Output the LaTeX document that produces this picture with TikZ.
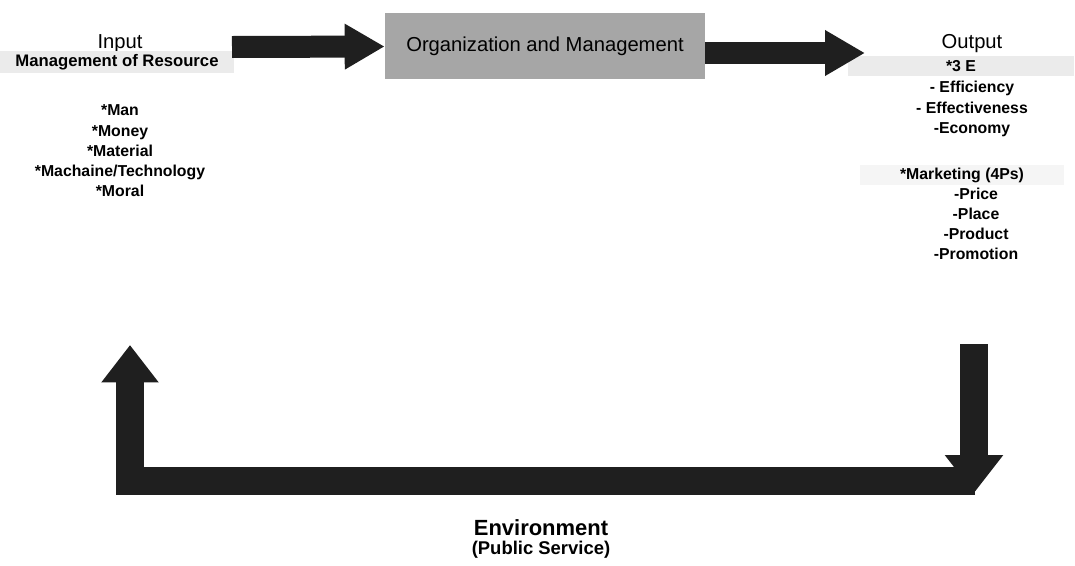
\documentclass[tikz,border=0pt]{standalone}
\usepackage{fontspec}
\setmainfont{Liberation Sans}
\usetikzlibrary{arrows.meta}
\begin{document}
\begin{tikzpicture}[x=0.02cm,y=-0.02cm]
\tikzstyle{ttl}= [font=\fontsize{11.5}{13}\selectfont]
\tikzstyle{lst}= [align=center,inner sep=1pt,font=\fontsize{9}{11.5}\selectfont\bfseries]
\tikzstyle{band}= [fill=black!8,minimum height=0.44cm,inner sep=1pt]
\tikzstyle{orgbox}= [rectangle,fill=black!35,minimum width=6.4cm,minimum height=1.34cm,font=\fontsize{11.5}{13}\selectfont]
\tikzstyle{flow}= [draw=black!88,line width=0.44cm,-{Triangle[length=0.8cm,width=0.86cm]}]
\tikzstyle{loop}= [draw=black!88,line width=0.55cm,-{Triangle[length=0.75cm,width=1.1cm]}]
\useasboundingbox (0,0) rectangle (1075,565);

\path
	(120,44)   node[ttl] (in) {Input}
	(117,62)   node[band,minimum width=4.7cm,font=\fontsize{9.5}{11}\selectfont\bfseries] (res) {Management of Resource}
	(120,151)  node[lst] (inlist) {*Man\\*Money\\*Material\\*Machaine/Technology\\*Moral}
	(545,46)   node[orgbox] (org) {Organization and Management}
	(972,44)   node[ttl] (out) {Output}
	(961,66)   node[band,lst,minimum width=4.54cm,minimum height=0.4cm] (e3) {*3 E}
	(972,109)  node[lst] (elist) {- Efficiency\\- Effectiveness\\-Economy}
	(962,175)  node[band,lst,fill=black!4,minimum width=4.1cm,minimum height=0.4cm] (mkt) {*Marketing (4Ps)}
	(976,224)  node[lst] (plist) {-Price\\-Place\\-Product\\-Promotion}
	(541,528)  node[font=\fontsize{12.5}{14}\selectfont\bfseries] (env) {Environment}
	(541,550)  node[font=\fontsize{10.5}{12}\selectfont\bfseries] (pub) {(Public Service)}
;
\coordinate (a1) at (232,47);
\coordinate (a2) at (865,53);
\coordinate (down) at (974,344);
\coordinate (downtip) at (974,493);
\coordinate (fbr) at (975,481);
\coordinate (fbc) at (130,481);
\coordinate (fbup) at (130,345);

\draw[flow] (a1) -- (org);
\draw[flow] (org.east |- a2) -- (a2);
\draw[loop] (fbr) -- (fbc) -- (fbup);
\draw[loop,line width=0.56cm,-{Triangle[length=0.76cm,width=1.12cm]}] (down) -- (downtip);
\end{tikzpicture}
\end{document}
